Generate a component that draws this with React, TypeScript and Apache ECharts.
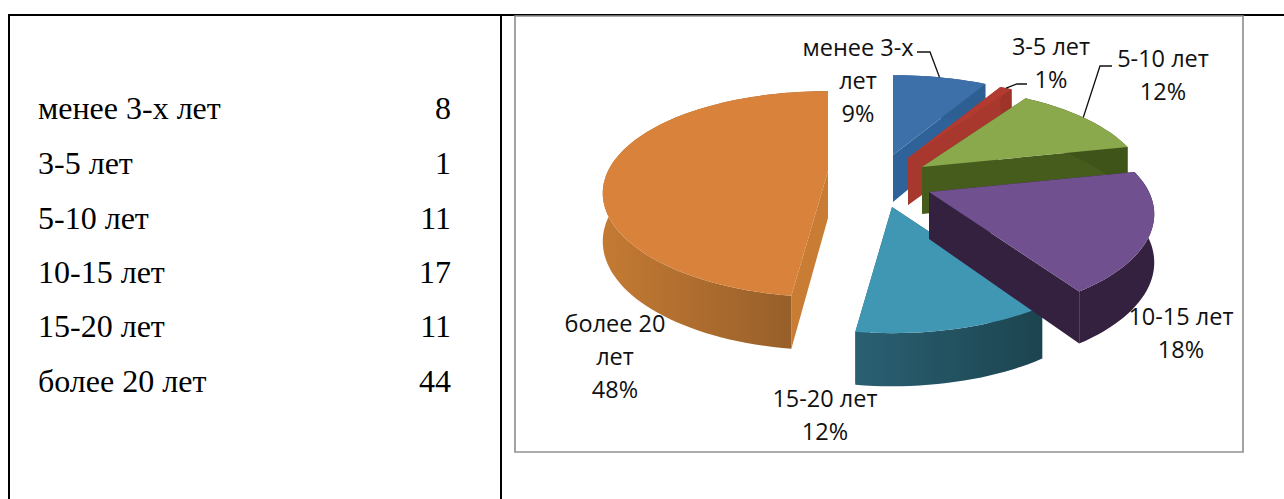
import React, { useEffect, useRef } from "react";
import * as echarts from "echarts";

const categories = ["менее 3-х лет", "3-5 лет", "5-10 лет", "10-15 лет", "15-20 лет", "более 20 лет"];
const values = [8, 1, 11, 17, 11, 44];
const chartLabels = ["менее 3-х\nлет", "3-5 лет", "5-10 лет", "10-15 лет", "15-20 лет", "более 20\nлет"];
const rowY = [108, 163, 218, 272, 326, 381];

const topColors = ["#3d70a9", "#b23a30", "#8aa84c", "#70508f", "#3f97b4", "#d8823b"];
const wallLeft = ["#2d5f93", "#9e3429", "#3f5419", "#33213f", "#2a6073", "#c47a33"];
const wallRight = ["#2d5f93", "#9e3429", "#3f5419", "#33213f", "#1c444f", "#8f5a28"];
const radialWall = ["#2f6299", "#a8382d", "#465c1c", "#33213f", "#27596b", "#c87c34"];
const sliceApex = [[893, 155], [908, 158], [922, 167], [929, 192], [892, 207], [828, 171]];
const labelPos = [[858, 46], [1051, 45], [1163, 57], [1181, 315], [825, 397], [615, 322]];
const leaderFrom = [[[917, 52], [930, 52]], [[1027, 84], [1017, 84]], [[1112, 66], [1100, 66]]];
const drawOrder = [0, 1, 2, 5, 4, 3];

const RX = 220, RY = 103, PERSP = 0.225, DEPTH = 47;
const total = values.reduce((a, b) => a + b, 0);

function proj(apex: number[], deg: number, r = 1) {
  const a = (deg * Math.PI) / 180;
  const u = Math.sin(a) * r, v = -Math.cos(a) * r;
  const s = 1 + PERSP * v;
  return [apex[0] + RX * u * s, apex[1] + RY * v * s, s];
}
function down(p: number[]) {
  return [p[0], p[1] + DEPTH * Math.pow(p[2] ?? 1, 0.6)];
}
const pt = (p: number[]) => [p[0], p[1]];

const spans: number[][] = [];
{
  let acc = 0;
  for (const v of values) {
    const d = (v / total) * 360;
    spans.push([acc, acc + d]);
    acc += d;
  }
}

function arc(apex: number[], a0: number, a1: number) {
  const n = Math.max(3, Math.ceil((a1 - a0) / 2));
  const out: number[][] = [];
  for (let i = 0; i <= n; i++) out.push(proj(apex, a0 + ((a1 - a0) * i) / n));
  return out;
}

function renderSlice(_params: any, api: any) {
  const i = api.value(0);
  const [a0, a1] = spans[i];
  const apex = [...sliceApex[i], 1];
  const rim = arc(apex, a0, a1);
  const wallGrad = new echarts.graphic.LinearGradient(0, 0, 1, 0, [
    { offset: 0, color: wallLeft[i] },
    { offset: 1, color: wallRight[i] },
  ]);
  const quad = (a: number[], b: number[], fill: any) => ({
    type: "polygon",
    shape: { points: [pt(a), pt(b), pt(down(b)), pt(down(a))] },
    style: { fill },
  });
  const first = rim[0], last = rim[rim.length - 1];
  const children: any[] = [
    quad(apex, first, radialWall[i]),
    quad(apex, last, radialWall[i]),
    {
      type: "polygon",
      shape: { points: [...rim.map(pt), ...rim.slice().reverse().map((p) => pt(down(p)))] },
      style: { fill: wallGrad },
    },
    {
      type: "polygon",
      shape: { points: [pt(apex), ...rim.map(pt)] },
      style: { fill: topColors[i] },
    },
  ];
  return { type: "group", children };
}

function renderLabel(_params: any, api: any) {
  const i = api.value(0);
  const pct = Math.round((values[i] / total) * 100);
  const children: any[] = [
    {
      type: "text",
      x: labelPos[i][0],
      y: labelPos[i][1] - 16,
      style: {
        text: `${chartLabels[i]}\n${pct}%`,
        font: "23.5px 'Open Sans'",
        fill: "#111",
        align: "center",
        verticalAlign: "top",
        lineHeight: 33,
      },
      silent: true,
    },
  ];
  if (leaderFrom[i]) {
    const mid = proj([...sliceApex[i], 1], (spans[i][0] + spans[i][1]) / 2);
    children.push({
      type: "polyline",
      shape: { points: [...leaderFrom[i], pt(mid)] },
      style: { stroke: "#111", lineWidth: 1.3, fill: null },
    });
  }
  return { type: "group", children };
}

const line = (x1: number, y1: number, x2: number, y2: number, stroke: string, lineWidth: number) => ({
  type: "line",
  shape: { x1, y1, x2, y2 },
  style: { stroke, lineWidth },
  silent: true,
});

export default function App() {
  const ref = useRef<HTMLDivElement>(null);
  useEffect(() => {
    const chart = echarts.init(ref.current!, null, { renderer: "svg" });
    const tableText: any[] = [];
    categories.forEach((c, i) => {
      tableText.push({
        type: "text",
        x: 38,
        y: rowY[i],
        style: { text: c, font: "32px 'Liberation Serif'", fill: "#000", align: "left", verticalAlign: "middle" },
      });
      tableText.push({
        type: "text",
        x: 451,
        y: rowY[i],
        style: { text: String(values[i]), font: "32px 'Liberation Serif'", fill: "#000", align: "right", verticalAlign: "middle" },
      });
    });
    const order = drawOrder.map((i) => [i, values[i]]);
    chart.setOption({
      animation: false,
      backgroundColor: "#fff",
      graphic: [
        line(8, 15, 1284, 15, "#000", 2),
        line(9, 15, 9, 499, "#000", 2),
        line(501, 15, 501, 499, "#000", 2),
        {
          type: "rect",
          shape: { x: 515, y: 16, width: 728, height: 436 },
          style: { fill: "none", stroke: "#939393", lineWidth: 1.7 },
          silent: true,
        },
        ...tableText,
      ],
      series: [
        {
          type: "custom",
          coordinateSystem: "none",
          renderItem: renderSlice,
          data: order,
          silent: true,
          z: 2,
        },
        {
          type: "custom",
          coordinateSystem: "none",
          renderItem: renderLabel,
          data: categories.map((c, i) => [i, c]),
          silent: true,
          z: 3,
        },
      ],
    });
    return () => chart.dispose();
  }, []);
  return <div ref={ref} style={{ position: "fixed", left: 0, top: 0, width: 1284, height: 499 }} />;
}
